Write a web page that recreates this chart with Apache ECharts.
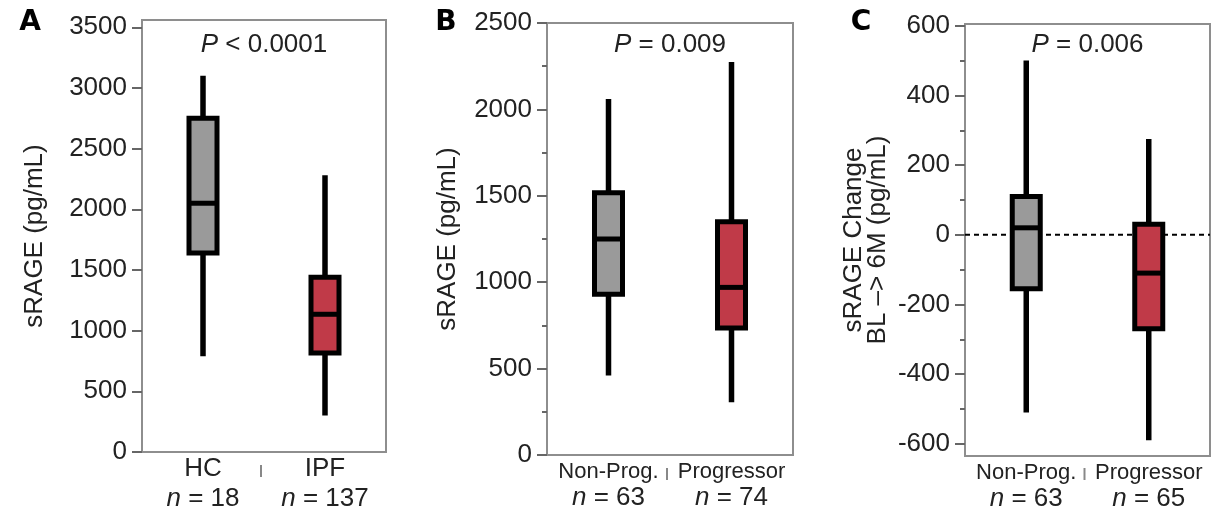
<!DOCTYPE html>
<html>
<head>
<meta charset="utf-8">
<script src="https://cdn.jsdelivr.net/npm/echarts@6/dist/echarts.min.js"></script>
<style>
    html, body { margin: 0; padding: 0; background: #fff; }
    #charts { width: 1227px; height: 512px; }
</style>
</head>
<body>
<div id="charts"></div>
<script>
// 数据  每个箱子: [min, Q1, median, Q3, max]
var groupsA = ['HC', 'IPF'];
var countsA = [18, 137];
var boxA = [[790, 1640, 2050, 2750, 3100], [300, 815, 1135, 1440, 2280]];
var ticksA = [0, 500, 1000, 1500, 2000, 2500, 3000, 3500];
var pTextA = '{i|P} < 0.0001';

var groupsB = ['Non-Prog.', 'Progressor'];
var countsB = [63, 74];
var boxB = [[460, 930, 1250, 1518, 2060], [305, 735, 970, 1350, 2275]];
var ticksB = [0, 500, 1000, 1500, 2000, 2500];
var minorB = [250, 750, 1250, 1750, 2250];
var pTextB = '{i|P} = 0.009';

var groupsC = ['Non-Prog.', 'Progressor'];
var countsC = [63, 65];
var boxC = [[-510, -155, 20, 110, 500], [-590, -270, -110, 30, 275]];
var ticksC = [-600, -400, -200, 0, 200, 400, 600];
var minorC = [-500, -300, -100, 100, 300, 500];
var zeroC = [0];
var pTextC = '{i|P} = 0.006';

var fills = ['#9a9a9a', '#c03a48'];
var font = 'Liberation Sans';

var myChart = echarts.init(document.getElementById('charts'));

// 箱线图 (没有须线端帽)
function renderBox(params, api) {
    var i = api.value(0);
    var lo = api.coord([i, api.value(1)]);
    var q1 = api.coord([i, api.value(2)]);
    var md = api.coord([i, api.value(3)]);
    var q3 = api.coord([i, api.value(4)]);
    var hi = api.coord([i, api.value(5)]);
    var w = 28;
    return {
        type: 'group',
        children: [
            { type: 'line', shape: { x1: lo[0], y1: lo[1], x2: hi[0], y2: hi[1] }, style: { stroke: '#000', lineWidth: 5.5 } },
            { type: 'rect', shape: { x: q3[0] - w / 2, y: q3[1], width: w, height: q1[1] - q3[1] }, style: { fill: fills[i], stroke: '#000', lineWidth: 5 } },
            { type: 'line', shape: { x1: md[0] - w / 2, y1: md[1], x2: md[0] + w / 2, y2: md[1] }, style: { stroke: '#000', lineWidth: 5 } }
        ]
    };
}

function toData(boxes) {
    return boxes.map(function (b, i) { return [i].concat(b); });
}

function xAxis(grid, groups, counts, size, lh, margin) {
    return {
        type: 'category',
        gridIndex: grid,
        data: groups,
        axisLine: { show: false },
        axisTick: { show: false },
        axisLabel: {
            margin: margin,
            interval: 0,
            formatter: function (v, i) {
                return '{c|' + v + '}\n{i|n}{m| = ' + counts[i] + '}';
            },
            rich: {
                c: { fontFamily: font, fontSize: size, color: '#222', lineHeight: lh },
                i: { fontFamily: font, fontSize: 26, fontStyle: 'italic', color: '#222', lineHeight: lh },
                m: { fontFamily: font, fontSize: 26, color: '#222', lineHeight: lh }
            }
        }
    };
}

function yAxis(grid, min, max, ticks, name, gap, lh) {
    return {
        type: 'value',
        gridIndex: grid,
        position: 'left',
        min: min,
        max: max,
        name: name,
        nameLocation: 'middle',
        nameGap: gap,
        nameTextStyle: { fontFamily: font, fontSize: 26, color: '#222', lineHeight: lh },
        axisLine: { show: false },
        splitLine: { show: false },
        axisTick: { show: true, length: 10, customValues: ticks, lineStyle: { color: '#666', width: 2 } },
        axisLabel: {
            customValues: ticks, margin: 15, fontFamily: font, fontSize: 26, color: '#222',
            formatter: function (v) { return String(v); }
        }
    };
}

function minorAxis(grid, min, max, ticks) {
    return {
        type: 'value',
        gridIndex: grid,
        position: 'left',
        min: min,
        max: max,
        axisLine: { show: false },
        splitLine: { show: false },
        axisLabel: { show: false },
        axisTick: { show: true, length: 5, customValues: ticks, lineStyle: { color: '#666', width: 2 } }
    };
}

var gridStyle = { show: true, borderColor: '#8e8e8e', borderWidth: 2, backgroundColor: 'transparent' };

var option = {
    animation: false,
    grid: [
        Object.assign({ left: 142, right: 841, top: 20, bottom: 60 }, gridStyle),
        Object.assign({ left: 547, right: 434, top: 23, bottom: 57 }, gridStyle),
        Object.assign({ left: 965, right: 17, top: 24, bottom: 56 }, gridStyle)
    ],
    xAxis: [
        xAxis(0, groupsA, countsA, 26, 30, 2),
        xAxis(1, groupsB, countsB, 22, 26, 4),
        xAxis(2, groupsC, countsC, 22, 26, 4)
    ],
    yAxis: [
        yAxis(0, 0, 3560, ticksA, 'sRAGE (pg/mL)', 92, 30),
        yAxis(1, 0, 2500, ticksB, 'sRAGE (pg/mL)', 84, 30),
        minorAxis(1, 0, 2500, minorB),
        yAxis(2, -635, 605, ticksC, 'sRAGE Change\nBL –> 6M (pg/mL)', 75, 24),
        minorAxis(2, -635, 605, minorC)
    ],
    series: [
        { type: 'custom', xAxisIndex: 0, yAxisIndex: 0, z: 3, data: toData(boxA), renderItem: renderBox },
        { type: 'custom', xAxisIndex: 1, yAxisIndex: 1, z: 3, data: toData(boxB), renderItem: renderBox },
        { type: 'custom', xAxisIndex: 2, yAxisIndex: 3, z: 3, data: toData(boxC), renderItem: renderBox },
        {
            type: 'custom', xAxisIndex: 2, yAxisIndex: 3, z: 2,
            data: zeroC.map(function (v) { return [0, v]; }),
            renderItem: function (params, api) {
                var y = api.coord([0, api.value(1)])[1];
                var cs = params.coordSys;
                return {
                    type: 'line',
                    shape: { x1: cs.x, y1: y, x2: cs.x + cs.width, y2: y },
                    style: { stroke: '#000', lineWidth: 2, lineDash: [5, 4] }
                };
            }
        }
    ]
};
myChart.setOption(option);

// P 值、分隔线、面板字母
var pTexts = [pTextA, pTextB, pTextC];
var groupsAll = [groupsA, groupsB, groupsC];
var sepTop = [465, 468, 468];
var graphics = [];
groupsAll.forEach(function (g, k) {
    var x0 = myChart.convertToPixel({ xAxisIndex: k }, g[0]);
    var x1 = myChart.convertToPixel({ xAxisIndex: k }, g[1]);
    var mid = (x0 + x1) / 2;
    graphics.push({
        type: 'text', x: mid, y: 45,
        style: {
            text: pTexts[k], align: 'center', verticalAlign: 'middle',
            fontFamily: font, fontSize: 26, fill: '#222',
            rich: { i: { fontFamily: font, fontSize: 26, fontStyle: 'italic', fill: '#222' } }
        }
    });
    graphics.push({
        type: 'line',
        shape: { x1: mid - 3, y1: sepTop[k], x2: mid - 3, y2: sepTop[k] + 12 },
        style: { stroke: '#888', lineWidth: 2 }
    });
});
[['A', 30], ['B', 446], ['C', 861]].forEach(function (l) {
    graphics.push({
        type: 'text', x: l[1], y: 23,
        style: { text: l[0], align: 'center', verticalAlign: 'middle', fontFamily: 'DejaVu Sans', fontWeight: 'bold', fontSize: 28, fill: '#000' }
    });
});
myChart.setOption({ graphic: graphics });
</script>
</body>
</html>
